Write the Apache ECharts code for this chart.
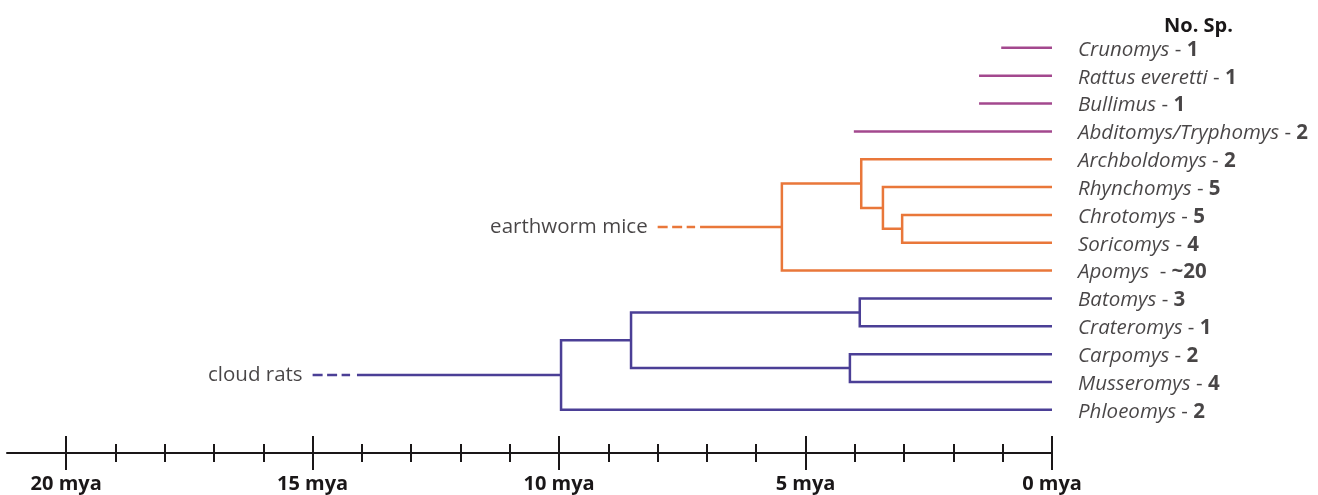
<!DOCTYPE html>
<html><head><meta charset="utf-8">
<script src="https://cdn.jsdelivr.net/npm/echarts@6/dist/echarts.min.js"></script>
<style>html,body{margin:0;padding:0;background:#fff}#c{width:1318px;height:495px}</style>
</head><body><div id="c"></div>
<script>
// ---- data ----
const taxa = ['Crunomys','Rattus everetti','Bullimus','Abditomys/Tryphomys','Archboldomys','Rhynchomys','Chrotomys','Soricomys','Apomys','Batomys','Crateromys','Carpomys','Musseromys','Phloeomys'];
const labelNames = ['Crunomys','Rattus everetti','Bullimus','Abditomys/Tryphomys','Archboldomys','Rhynchomys','Chrotomys','Soricomys','Apomys ','Batomys','Crateromys','Carpomys','Musseromys','Phloeomys'];
const speciesCounts = ['1','1','1','2','2','5','5','4','~20','3','1','2','4','2'];
// branch start ages (mya) of the single magenta lineages (first four taxa)
const magentaTipStarts = [1.03, 1.48, 1.48, 4.02];
// [node name, age (mya), child A, child B]
const orangeNodes = [
  ['o1', 3.04, 'Chrotomys', 'Soricomys'],
  ['o2', 3.43, 'Rhynchomys', 'o1'],
  ['o3', 3.87, 'Archboldomys', 'o2'],
  ['o4', 5.48, 'o3', 'Apomys']
];
const orangeStem = [5.48, 7.14];
const orangeDash = [7.24, 8.0];
const blueNodes = [
  ['b1', 3.9, 'Batomys', 'Crateromys'],
  ['b2', 4.1, 'Carpomys', 'Musseromys'],
  ['b3', 8.54, 'b1', 'b2'],
  ['b4', 9.96, 'b3', 'Phloeomys']
];
const blueStem = [9.96, 14.1];
const blueDash = [14.24, 15.0];
const cladeLabels = ['earthworm mice', 'cloud rats'];
const majorTicks = [0, 5, 10, 15, 20];
const minorTicks = [1,2,3,4,6,7,8,9,11,12,13,14,16,17,18,19];
const axisMax = 21.2;

// ---- styling ----
const MAG = '#a3488e', ORA = '#e9773a', BLU = '#4b3f96', INK = '#1a1718';
const FONT = 'Open Sans';
const LW = 2.5;
const FS = 20.5;

function buildClade(nodes) {
  const pos = {};
  taxa.forEach((t, i) => pos[t] = { x: 0, y: i });
  const segs = [];
  nodes.forEach(([name, age, a, b]) => {
    const A = pos[a], B = pos[b];
    segs.push([[A.x, A.y], [age, A.y], [age, B.y], [B.x, B.y]]);
    pos[name] = { x: age, y: (A.y + B.y) / 2 };
  });
  return { segs, root: pos[nodes[nodes.length - 1][0]] };
}
const orange = buildClade(orangeNodes);
const blue = buildClade(blueNodes);

function linesSeries(coordsList, color, dashed) {
  return {
    type: 'lines', coordinateSystem: 'cartesian2d', polyline: true,
    xAxisIndex: 0, yAxisIndex: 0, silent: true, clip: false,
    lineStyle: { color, width: LW, opacity: 1, type: dashed ? [10, 4.5] : 'solid', cap: 'butt', join: 'miter' },
    data: coordsList.map(c => ({ coords: c }))
  };
}

const magentaSegs = magentaTipStarts.map((s, i) => [[s, i], [0, i]]);
const orangeSolid = orange.segs.concat([[[orangeStem[0], orange.root.y], [orangeStem[1], orange.root.y]]]);
const orangeDashed = [[[orangeDash[1], orange.root.y], [orangeDash[0], orange.root.y]]];
const blueSolid = blue.segs.concat([[[blueStem[0], blue.root.y], [blueStem[1], blue.root.y]]]);
const blueDashed = [[[blueDash[1], blue.root.y], [blueDash[0], blue.root.y]]];

const tickAxisBase = {
  type: 'value', min: 0, max: axisMax, inverse: true, position: 'bottom',
  axisLine: { show: false, onZero: false }, axisLabel: { show: false }, splitLine: { show: false }
};

const option = {
  animation: false,
  backgroundColor: '#fff',
  title: { text: 'No. Sp.', left: 1159, top: 11, textStyle: { fontFamily: FONT, fontWeight: 'bold', fontSize: 20, color: INK } },
  grid: { left: 7, right: 266, top: 20, height: 433 },
  xAxis: [
    {
      type: 'value', min: 0, max: axisMax, inverse: true, position: 'bottom',
      axisLine: { show: true, onZero: false, lineStyle: { color: INK, width: 2 } },
      axisTick: { show: false },
      splitLine: { show: false },
      axisLabel: {
        customValues: majorTicks, margin: 21,
        formatter: v => v + ' mya',
        fontFamily: FONT, fontWeight: 'bold', fontSize: 20, color: INK
      }
    },
    Object.assign({}, tickAxisBase, { offset: -17, axisTick: { show: true, customValues: majorTicks, length: 34, lineStyle: { color: INK, width: 2 } } }),
    Object.assign({}, tickAxisBase, { offset: -9, axisTick: { show: true, customValues: minorTicks, length: 18, lineStyle: { color: INK, width: 2 } } })
  ],
  yAxis: { type: 'value', inverse: true, min: -1, max: 14.55, show: false },
  series: [
    linesSeries(magentaSegs, MAG, false),
    linesSeries(orangeSolid, ORA, false),
    linesSeries(orangeDashed, ORA, true),
    linesSeries(blueSolid, BLU, false),
    linesSeries(blueDashed, BLU, true),
    {
      type: 'scatter', symbolSize: 0, silent: true, clip: false,
      data: taxa.map((t, i) => [0, i]),
      label: {
        show: true, position: 'right', distance: 26, offset: [0, 2], color: INK,
        fontFamily: FONT, fontSize: FS, textBorderWidth: 0,
        formatter: p => '{i|' + labelNames[p.dataIndex] + '}{n| - }{b|' + speciesCounts[p.dataIndex] + '}',
        rich: {
          i: { fontFamily: FONT, fontStyle: 'italic', fontSize: FS, color: INK },
          n: { fontFamily: FONT, fontSize: FS, color: INK },
          b: { fontFamily: FONT, fontWeight: 'bold', fontSize: FS, color: INK }
        }
      }
    },
    {
      type: 'scatter', symbolSize: 0, silent: true, clip: false,
      data: [[orangeDash[1], orange.root.y], [blueDash[1], blue.root.y]],
      label: {
        show: true, position: 'left', distance: 10, textBorderWidth: 0,
        formatter: p => cladeLabels[p.dataIndex],
        fontFamily: FONT, fontSize: FS, color: INK
      }
    }
  ]
};
const chart = echarts.init(document.getElementById('c'), null, { renderer: 'canvas' });
chart.setOption(option);
</script></body></html>
